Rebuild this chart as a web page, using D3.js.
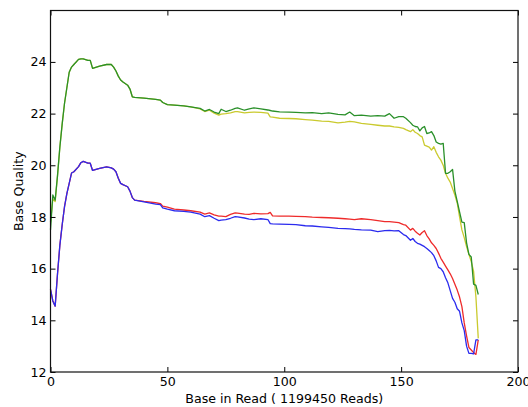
<!DOCTYPE html>
<html>
<head>
<meta charset="utf-8">
<script src="https://cdn.jsdelivr.net/npm/d3@7"></script>
<style>
  html, body { margin: 0; padding: 0; background: #fff; }
  svg { display: block; }
  text { font-family: "DejaVu Sans", sans-serif; fill: #000; }
</style>
</head>
<body>
<svg id="chart" width="528" height="407"></svg>
<script>
// ---- data ----
const positions = [0,1,2,3,4,5,6,7,8,9,10,12,13,14,16,17,18,21,24,26,27,28,29,30,31,33,34,35,36,40,45,47,48,50,53,57,60,64,66,68,70,72,73,75,77,79,80,83,85,87,90,93,94,95,98,102,105,109,112,116,119,123,126,128,130,133,137,140,143,145,147,149,151,152,154,155,156,157,158,159,160,161,162,163,164,165,166,167,168,169,170,171,172,173,174,175,176,177,178,179,180,181,182,183];

const greenSeries = [17.5,18.85,18.65,19.6,20.7,21.6,22.4,23.0,23.6,23.8,23.9,24.1,24.12,24.12,24.06,24.06,23.75,23.84,23.9,23.9,23.8,23.65,23.45,23.3,23.22,23.1,22.95,22.65,22.63,22.6,22.55,22.52,22.43,22.35,22.33,22.3,22.26,22.2,22.1,22.16,22.06,22.0,22.17,22.08,22.13,22.2,22.22,22.13,22.18,22.22,22.18,22.14,22.12,22.1,22.07,22.06,22.05,22.03,22.04,22.0,22.03,21.97,21.95,22.06,21.92,21.94,21.9,21.92,21.9,22.0,21.82,21.88,21.88,21.82,21.65,21.55,21.5,21.49,21.33,21.45,21.5,21.23,21.25,21.3,21.15,20.9,20.85,20.82,20.85,19.69,19.69,19.75,19.84,19.0,18.6,18.2,17.8,17.78,17.0,16.55,16.45,15.4,15.35,15.0];

const yellowSeries = [17.8,18.7,18.6,19.6,20.7,21.6,22.4,23.0,23.6,23.8,23.9,24.1,24.12,24.12,24.06,24.06,23.75,23.84,23.9,23.9,23.8,23.65,23.45,23.3,23.22,23.1,22.95,22.65,22.63,22.6,22.55,22.52,22.43,22.35,22.33,22.3,22.26,22.18,22.08,22.13,22.02,21.94,21.98,22.0,22.03,22.08,22.08,22.03,22.05,22.06,22.05,22.02,21.87,21.86,21.82,21.81,21.8,21.77,21.75,21.71,21.7,21.64,21.67,21.7,21.68,21.62,21.58,21.55,21.52,21.52,21.49,21.47,21.43,21.38,21.3,21.38,21.28,21.23,21.15,21.1,20.78,20.74,20.7,20.59,20.72,20.5,20.33,20.2,20.0,19.69,19.5,19.35,19.1,18.85,18.54,18.0,17.5,17.2,16.85,16.55,16.27,15.9,14.9,13.3];

const redSeries = [15.2,14.75,14.55,15.8,16.9,17.7,18.4,18.9,19.3,19.7,19.75,19.95,20.1,20.15,20.08,20.08,19.8,19.88,19.94,19.9,19.85,19.75,19.5,19.3,19.25,19.17,19.0,18.75,18.65,18.6,18.55,18.52,18.42,18.38,18.3,18.27,18.24,18.19,18.11,18.16,18.08,18.03,18.03,18.01,18.1,18.16,18.15,18.11,18.1,18.14,18.12,18.13,18.18,18.04,18.03,18.03,18.02,18.01,17.99,17.98,17.97,17.95,17.93,17.92,17.9,17.93,17.9,17.86,17.82,17.82,17.8,17.78,17.7,17.68,17.49,17.56,17.45,17.37,17.3,17.4,17.47,17.28,17.15,17.0,16.9,16.78,16.6,16.4,16.25,16.1,15.95,15.8,15.62,15.4,15.17,14.9,14.53,13.9,13.4,12.95,12.85,12.75,12.68,13.24];

const blueSeries = [15.2,14.75,14.55,15.8,16.9,17.7,18.4,18.9,19.3,19.7,19.75,19.95,20.1,20.15,20.08,20.08,19.8,19.88,19.94,19.9,19.85,19.75,19.5,19.3,19.25,19.17,19.0,18.75,18.65,18.58,18.5,18.48,18.35,18.3,18.24,18.22,18.19,18.11,18.01,18.05,17.95,17.86,17.88,17.9,17.95,18.01,18.0,17.96,17.92,17.9,17.93,17.9,17.74,17.73,17.72,17.71,17.7,17.66,17.65,17.62,17.6,17.56,17.55,17.54,17.52,17.5,17.49,17.43,17.47,17.48,17.46,17.47,17.32,17.28,17.1,17.17,17.05,16.98,16.95,16.9,16.85,16.78,16.7,16.62,16.5,16.3,16.05,16.0,15.88,15.65,15.45,15.15,14.85,14.7,14.45,14.35,13.9,13.6,13.0,12.72,12.72,12.7,13.24,13.24];

const xTicks = [0, 50, 100, 150, 200];
const yTicks = [12, 14, 16, 18, 20, 22, 24];
const xLabel = "Base in Read ( 1199450 Reads)";
const yLabel = "Base Quality";

const seriesList = [
  { name: "red", values: redSeries, color: "#ee2b2b" },
  { name: "blue", values: blueSeries, color: "#2b2bee" },
  { name: "yellow", values: yellowSeries, color: "#caca2e" },
  { name: "green", values: greenSeries, color: "#2a902a" }
];

// ---- layout ----
const margin = { left: 50.5, top: 10.5, right: 10, bottom: 35 };
const plotW = 467.5, plotH = 361.5;

const svg = d3.select("#chart");
const g = svg.append("g").attr("transform", `translate(${margin.left},${margin.top})`);

const x = d3.scaleLinear().domain([0, 200]).range([0, plotW]);
const y = d3.scaleLinear().domain([12, 25.99]).range([plotH, 0]);

// lines
const line = d3.line()
  .x((d, i) => x(positions[i]))
  .y(d => y(d));

g.append("g").attr("class", "lines")
  .selectAll("path")
  .data(seriesList)
  .join("path")
  .attr("d", d => line(d.values))
  .attr("fill", "none")
  .attr("stroke", d => d.color)
  .attr("stroke-width", 1.3)
  .attr("stroke-linejoin", "round");

// axes (ticks inward, matplotlib style)
const fontSize = 12.6;
const xAxisB = d3.axisBottom(x).tickValues(xTicks).tickSizeInner(-5).tickSizeOuter(0).tickPadding(5).tickFormat(d3.format("d"));
const xAxisT = d3.axisTop(x).tickValues(xTicks).tickSizeInner(-5).tickSizeOuter(0).tickFormat("");
const yAxisL = d3.axisLeft(y).tickValues(yTicks).tickSizeInner(-5).tickSizeOuter(0).tickPadding(4).tickFormat(d3.format("d"));
const yAxisR = d3.axisRight(y).tickValues(yTicks).tickSizeInner(-5).tickSizeOuter(0).tickFormat("");

function style(sel) {
  sel.select(".domain").remove();
  sel.selectAll(".tick line").attr("stroke", "#000").attr("stroke-width", 1);
  sel.selectAll(".tick text").attr("font-size", fontSize).attr("font-family", "DejaVu Sans").attr("fill", "#000");
}
g.append("g").attr("transform", `translate(0,${plotH})`).call(xAxisB).call(style);
g.append("g").call(xAxisT).call(style);
g.append("g").call(yAxisL).call(style);
g.append("g").attr("transform", `translate(${plotW},0)`).call(yAxisR).call(style);

// frame
g.append("rect")
  .attr("x", 0).attr("y", 0)
  .attr("width", plotW).attr("height", plotH)
  .attr("fill", "none").attr("stroke", "#111").attr("stroke-width", 1.2);

// labels
svg.append("text")
  .attr("x", margin.left + plotW / 2)
  .attr("y", 403)
  .attr("text-anchor", "middle")
  .attr("font-size", fontSize)
  .text(xLabel);

svg.append("text")
  .attr("transform", `translate(23,${margin.top + plotH / 2}) rotate(-90)`)
  .attr("text-anchor", "middle")
  .attr("font-size", fontSize)
  .text(yLabel);
</script>
</body>
</html>
